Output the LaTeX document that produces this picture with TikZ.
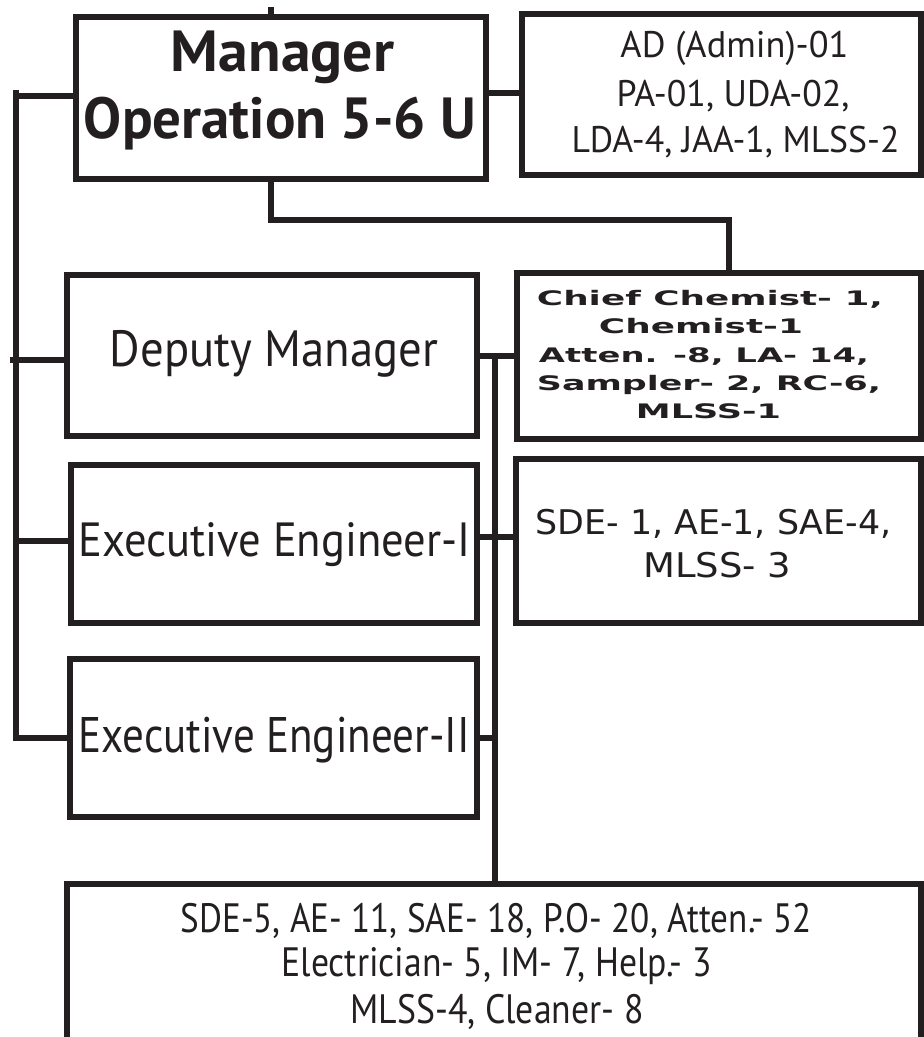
\documentclass[tikz,border=0pt]{standalone}
\usepackage{fontspec}
\usepackage{graphicx}
\setmainfont{PT Sans}
\newfontfamily\ptsans{PT Sans}
\newfontfamily\dvsans{DejaVu Sans}
\definecolor{ink}{HTML}{231F20}
\newcommand{\fitw}[2]{\resizebox{#1pt}{\height}{#2}}
\newcommand{\fmgr}{\ptsans\bfseries\fontsize{58}{60}\selectfont}
\newcommand{\fad}{\ptsans\fontsize{37}{40}\selectfont}
\newcommand{\fdep}{\ptsans\fontsize{51}{54}\selectfont}
\newcommand{\fexa}{\ptsans\fontsize{48}{50}\selectfont}
\newcommand{\fexb}{\ptsans\fontsize{50}{52}\selectfont}
\newcommand{\fsde}{\dvsans\fontsize{34}{36}\selectfont}
\newcommand{\fchem}{\dvsans\bfseries\fontsize{20}{22}\selectfont}
\newcommand{\fbot}{\ptsans\fontsize{41}{44}\selectfont}
\begin{document}
\begin{tikzpicture}[x=1pt,y=-1pt,line width=6pt,
  box/.style={draw=ink,rectangle,inner sep=0pt,outer sep=0pt,line width=6pt},
  lbl/.style={anchor=base,inner sep=0pt,outer sep=0pt,text=ink},
  conn/.style={draw=ink,line width=6pt}]
\path[use as bounding box] (0,0) rectangle (924,1037);
\clip (0,0) rectangle (924,1037);

% boxes
\node[box,minimum width=409.5pt,minimum height=162pt] (mgr) at (280.75,97.5) {};
\node[box,minimum width=399pt,minimum height=161.3pt] (ad) at (721.5,94.35) {};
\node[box,minimum width=409.5pt,minimum height=161pt] (dep) at (271.75,355.5) {};
\node[box,minimum width=404pt,minimum height=166pt] (chem) at (719,356) {};
\node[box,minimum width=406pt,minimum height=158.5pt] (exa) at (273.5,543.75) {};
\node[box,minimum width=405pt,minimum height=164.5pt] (sde) at (718.5,540.75) {};
\node[box,minimum width=407pt,minimum height=158pt] (exb) at (273.5,737.5) {};
\node[box,minimum width=853.5pt,minimum height=186pt] (bot) at (493.75,977) {};

% texts
\node[lbl] (mgrta) at (282.5,71) {\fmgr\fitw{223}{Manager}};
\node[lbl] (mgrtb) at (280,138) {\fmgr\fitw{392}{Operation 5-6 U}};
\node[lbl] (adta) at (734.5,57.3) {\fad\fitw{228}{AD (Admin)-01}};
\node[lbl] (adtb) at (733,106) {\fad\fitw{233}{PA-01, UDA-02,}};
\node[lbl] (adtc) at (735.5,152.7) {\fad\fitw{328}{LDA-4, JAA-1, MLSS-2}};
\node[lbl] (dept) at (274,366.7) {\fdep\fitw{328}{Deputy Manager}};
\node[lbl] (exat) at (274.5,556) {\fexa\fitw{392}{Executive Engineer-I}};
\node[lbl] (exbt) at (274,752) {\fexb\fitw{391}{Executive Engineer-II}};
\node[lbl] (chta) at (710,305) {\fchem\fitw{346}{Chief Chemist- 1,}};
\node[lbl] (chtb) at (701,333) {\fchem\fitw{204}{Chemist-1}};
\node[lbl] (chtc) at (704,362) {\fchem\fitw{330}{Atten. -8, LA- 14,}};
\node[lbl] (chtd) at (709,390) {\fchem\fitw{344}{Sampler- 2, RC-6,}};
\node[lbl] (chte) at (708.5,418) {\fchem\fitw{145}{MLSS-1}};
\node[lbl] (sdta) at (713.5,534) {\fsde\fitw{356}{SDE- 1, AE-1, SAE-4,}};
\node[lbl] (sdtb) at (717.5,577) {\fsde\fitw{148}{MLSS- 3}};
\node[lbl] (bta) at (496,932) {\fbot\fitw{631}{SDE-5, AE- 11, SAE- 18, P.O- 20, Atten.- 52}};
\node[lbl] (btb) at (496.5,976) {\fbot\fitw{430}{Electrician- 5, IM- 7, Help.- 3}};
\node[lbl] (btc) at (497,1023) {\fbot\fitw{293}{MLSS-4, Cleaner- 8}};

% connector coordinates
\coordinate (topstub) at (271,6.7);
\coordinate (bustop) at (16,90);
\coordinate (lm) at (16,96);
\coordinate (ld) at (10,360);
\coordinate (lea) at (16,541);
\coordinate (ma) at (485,92.5);
\coordinate (mb) at (271,220);
\coordinate (cb) at (729,220);
\coordinate (dc) at (495,356);
\coordinate (es) at (495,537);

% connectors
\draw[conn] (topstub) -- (topstub |- mgr.north);
\draw[conn] (bustop) |- (exb.west);
\draw[conn] (lm) -- (lm -| mgr.west);
\draw[conn] (ld) -- (ld -| dep.west);
\draw[conn] (lea) -- (lea -| exa.west);
\draw[conn] (ma -| mgr.east) -- (ma -| ad.west);
\draw[conn] (mb |- mgr.south) -- (mb) -- (cb) -- (cb |- chem.north);
\draw[conn] (dc -| dep.east) -- (dc -| chem.west);
\draw[conn] (dc) -- (dc |- bot.north);
\draw[conn] (es -| exa.east) -- (es -| sde.west);
\draw[conn] (exb.east) -- (exb.east -| dc);
\end{tikzpicture}
\end{document}
